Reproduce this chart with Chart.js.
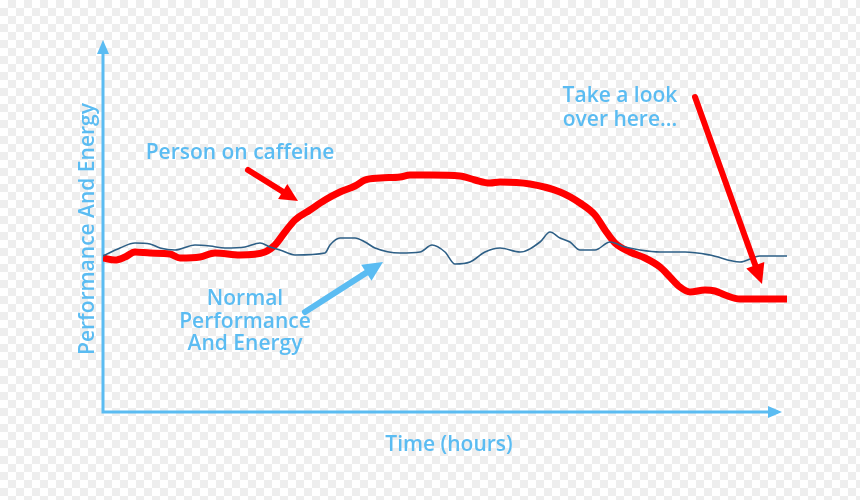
<!DOCTYPE html>
<html><head><script src="https://cdn.jsdelivr.net/npm/chart.js@4"></script>
<style>html,body{margin:0;padding:0}
body{width:860px;height:500px;background-color:#fff;background-image:linear-gradient(45deg,#eee 25%,transparent 25%,transparent 75%,#eee 75%),linear-gradient(45deg,#eee 25%,transparent 25%,transparent 75%,#eee 75%);background-size:16px 16px;background-position:0 0,8px 8px}
</style></head><body><canvas id="c" width="860" height="500"></canvas>
<script>
// x: time (0..684), y: level (0..367)
const caffeineX=[0,12,22,32,47,67,77,97,112,137,162,172,182,192,207,222,237,252,262,277,297,307,327,357,372,387,397,427,457,477,492,502,512,527,542,557,567,577,587,602,612,622,637,684];
const caffeineY=[154,152,155,160,159,158,154,155,159,157,160,167,180,192,202,212,220,226,232,234,235,237,237,236,232,229,230,228,220,209,197,182,169,160,154,145,135,125,120,122,121,117,113,113];
const normalX=[0,17,32,47,57,72,92,107,122,142,157,167,177,192,222,227,237,252,262,272,297,317,329,342,352,367,382,397,417,437,447,457,467,477,492,507,522,537,557,582,607,637,657,684];
const normalY=[156,164,169,168,164,162,167,166,164,165,169,165,162,157,159,167,174,174,170,164,159,160,167,160,148,150,160,164,160,170,180,174,170,162,162,170,165,162,160,160,157,150,156,156];
const blue='#5bbcf2';
const caff=caffeineX.map((x,i)=>({x,y:caffeineY[i]}));
const norm=normalX.map((x,i)=>({x,y:normalY[i]}));
function arrow(ctx,x1,y1,x2,y2,col,w,h){
  ctx.save();ctx.strokeStyle=col;ctx.fillStyle=col;ctx.lineWidth=w;ctx.lineCap='round';
  const a=Math.atan2(y2-y1,x2-x1);
  ctx.beginPath();ctx.moveTo(x1,y1);ctx.lineTo(x2-Math.cos(a)*h*0.6,y2-Math.sin(a)*h*0.6);ctx.stroke();
  ctx.beginPath();ctx.moveTo(x2,y2);
  ctx.lineTo(x2-h*Math.cos(a-0.45),y2-h*Math.sin(a-0.45));
  ctx.lineTo(x2-h*Math.cos(a+0.45),y2-h*Math.sin(a+0.45));ctx.closePath();ctx.fill();ctx.restore();
}
const deco={id:'deco',beforeDatasetsDraw(ch){
  const c=ch.ctx,a=ch.chartArea;
  c.save();c.strokeStyle=blue;c.lineWidth=3;
  c.beginPath();c.moveTo(a.left,46);c.lineTo(a.left,a.bottom);c.lineTo(778,a.bottom);c.stroke();
  c.fillStyle=blue;
  c.beginPath();c.moveTo(a.left,40);c.lineTo(a.left-6,54);c.lineTo(a.left+6,54);c.closePath();c.fill();
  c.beginPath();c.moveTo(782,a.bottom);c.lineTo(768,a.bottom-6);c.lineTo(768,a.bottom+6);c.closePath();c.fill();
  c.restore();
},afterDatasetsDraw(ch){
  const c=ch.ctx,xs=ch.scales.x,ys=ch.scales.y;
  c.save();c.font='600 21px "Open Sans"';c.textAlign='center';c.textBaseline='middle';c.fillStyle=blue;
  c.fillText('Time (hours)',449,445);
  c.fillText('Person on caffeine',240,153);
  c.fillText('Normal',245,299);c.fillText('Performance',245,322);c.fillText('And Energy',245,344);
  c.fillText('Take a look',620,96);c.fillText('over here...',620,120);
  c.save();c.translate(88,229);c.rotate(-Math.PI/2);c.fillText('Performance And Energy',0,0);c.restore();
  arrow(c,248,170,xs.getPixelForValue(195),ys.getPixelForValue(211),'#ff0000',6,20);
  arrow(c,695,97,xs.getPixelForValue(659),ys.getPixelForValue(128),'#ff0000',6,22);
  arrow(c,305,312,xs.getPixelForValue(280),ys.getPixelForValue(150),blue,6,22);
  c.restore();
}};
new Chart(document.getElementById('c'),{type:'line',
 data:{datasets:[
  {data:norm,borderColor:'#2d5f86',borderWidth:1.6,pointRadius:0,tension:0.4,cubicInterpolationMode:'monotone'},
  {data:caff,borderColor:'#ff0000',borderWidth:7,pointRadius:0,tension:0.3,cubicInterpolationMode:'monotone'}]},
 options:{responsive:false,animation:false,layout:{padding:{left:103,right:73,top:45,bottom:88}},
  plugins:{legend:{display:false},tooltip:{enabled:false}},
  scales:{x:{type:'linear',min:0,max:684,display:false},y:{min:0,max:367,display:false}}},
 plugins:[deco]});
</script></body></html>
